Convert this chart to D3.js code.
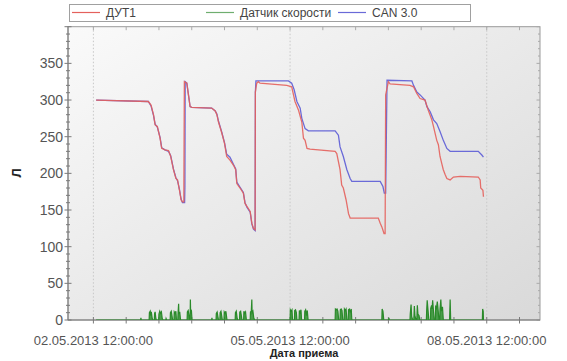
<!DOCTYPE html>
<html><head><meta charset="utf-8">
<script src="https://cdn.jsdelivr.net/npm/d3@7"></script>
<style>body{margin:0;background:#fff;}svg{display:block;font-family:"Liberation Sans",Arial,sans-serif;}</style>
</head><body>
<svg id="c" width="567" height="361"></svg>
<script>
// hours offset from 02.05.2013 12:00, value (litres)
const seriesNames = ["ДУТ1", "Датчик скорости", "CAN 3.0"];
const yTicks = [0, 50, 100, 150, 200, 250, 300, 350];
const xTickLabels = ["02.05.2013 12:00:00", "05.05.2013 12:00:00", "08.05.2013 12:00:00"];
const dut1 = [[1.0,300],[20.1,298],[21.1,293],[22.0,280],[22.6,266],[23.4,264],[24.4,248],[25.0,234],[26.2,232],[27.5,231],[28.3,223],[29.3,205],[30.2,193],[30.8,191],[31.5,177],[32.1,164],[32.6,161],[33.1,161],[33.3,325],[34.2,323],[35.4,291],[36.0,290],[43.3,289],[44.6,285],[45.2,280],[45.8,270],[47.0,255],[48.0,241],[48.8,223],[50.0,218],[51.3,211],[52.1,205],[52.5,186],[53.7,180],[54.9,173],[55.5,159],[56.2,155],[57.4,148],[58.0,132],[58.6,125],[59.2,123],[59.3,311],[59.8,323],[60.4,325],[61.0,323],[70.8,320],[72.6,318],[73.8,298],[75.1,286],[76.3,270],[76.9,248],[77.5,245],[78.2,234],[79.3,233],[88.5,230],[89.1,227],[90.3,205],[90.9,184],[91.5,180],[92.5,164],[93.4,145],[94.0,139],[104.3,139],[105.0,132],[105.6,127],[106.4,118],[106.8,118],[107.0,307],[108.0,325],[108.6,322],[115.9,320],[117.2,318],[118.4,309],[119.6,302],[121.4,300],[122.6,286],[123.9,273],[124.5,264],[125.7,245],[126.3,239],[126.9,223],[127.5,214],[128.1,205],[128.8,198],[129.4,193],[130.6,191],[131.8,195],[134.3,196],[140.9,195],[141.6,191],[141.8,180],[142.6,177],[142.8,168]];
const can30 = [[1.0,300],[20.1,298],[21.1,292],[22.0,279],[22.6,267],[23.4,263],[24.4,249],[25.0,235],[26.2,232],[27.5,230],[28.3,224],[29.3,206],[30.2,194],[30.8,190],[31.5,178],[32.1,165],[32.6,160],[33.4,160],[33.5,182],[33.6,325],[34.2,323],[35.4,291],[36.0,290],[43.3,289],[44.6,285],[45.2,281],[45.8,271],[47.0,256],[48.0,242],[48.8,226],[50.0,222],[51.3,212],[52.1,206],[52.5,188],[53.7,181],[54.9,174],[55.5,160],[56.2,154],[57.4,147],[58.0,131],[58.6,124],[59.2,122],[59.3,311],[59.5,326],[71.4,326],[72.6,323],[73.5,314],[74.5,298],[75.7,289],[76.3,275],[77.5,261],[78.7,258],[88.5,258],[89.7,252],[90.3,236],[91.5,223],[92.8,205],[94.0,193],[94.6,189],[105.0,189],[106.0,182],[106.5,173],[107.0,173],[107.5,327],[116.6,326],[117.2,320],[118.4,311],[119.6,307],[121.4,300],[122.1,291],[123.3,284],[124.5,273],[125.7,268],[126.9,257],[128.1,245],[129.4,234],[130.6,230],[140.9,230],[142.2,225],[142.8,222]];
const speed = [[1.0,0],[17.3,0],[17.4,3],[17.5,0],
[20.4,0],[20.5,10],[20.8,12],[21.0,6],[21.2,11],[21.5,3],[21.7,0],
[22.3,0],[22.4,9],[22.6,11],[22.8,4],[23.0,0],
[23.9,0],[24.0,8],[24.3,12],[24.6,9],[24.9,11],[25.2,2],[25.5,0],
[26.5,0],[26.6,2],[26.8,0],
[28.1,0],[28.2,10],[28.5,12],[28.8,5],[29.0,0],
[29.5,0],[29.6,11],[29.9,9],[30.2,12],[30.4,0],
[30.9,0],[31.0,10],[31.2,22],[31.3,8],[31.6,11],[31.9,0],
[34.3,0],[34.4,11],[34.7,13],[35.0,6],[35.2,0],
[35.4,0],[35.5,28],[35.6,10],[35.9,12],[36.1,0],
[43.3,0],[43.4,3],[43.5,0],
[44.9,0],[45.0,9],[45.3,11],[45.6,4],[45.8,0],
[46.3,0],[46.4,10],[46.7,12],[47.0,5],[47.2,0],
[47.8,0],[47.9,11],[48.2,9],[48.5,12],[48.9,0],
[51.9,0],[52.0,10],[52.3,12],[52.6,3],[52.8,0],
[53.5,0],[53.6,11],[53.9,12],[54.2,5],[54.4,0],
[55.0,0],[55.1,12],[55.4,9],[55.7,11],[56.0,0],
[57.4,0],[57.5,11],[57.8,12],[58.0,28],[58.1,10],[58.4,12],[58.7,3],[59.0,0],
[72.0,0],[72.1,14],[72.4,12],[72.7,14],[72.9,0],
[73.6,0],[73.7,13],[74.0,14],[74.3,10],[74.5,0],
[75.3,0],[75.4,13],[75.7,10],[76.0,14],[76.2,0],
[77.3,0],[77.4,12],[77.7,14],[78.0,6],[78.3,13],[78.6,0],
[88.5,0],[88.6,15],[88.9,14],[89.2,15],[89.5,12],[89.8,0],
[90.3,0],[90.4,14],[90.7,15],[91.0,13],[91.3,0],
[91.8,0],[91.9,15],[92.2,13],[92.5,15],[92.8,0],
[93.3,0],[93.4,14],[93.7,15],[94.0,11],[94.4,15],[94.6,0],
[105.6,0],[105.7,15],[106.0,12],[106.3,0],
[108.1,0],[108.2,3],[108.3,0],
[115.9,0],[116.0,8],[116.3,21],[116.5,5],[116.9,0],
[117.3,0],[117.5,19],[117.7,6],[118.1,0],
[118.4,0],[118.6,20],[118.8,8],[119.2,6],[119.5,0],
[121.9,0],[122.0,12],[122.2,27],[122.4,18],[122.8,0],
[123.4,0],[123.5,16],[123.8,20],[124.0,15],[124.2,27],[124.4,17],[124.8,0],
[125.2,0],[125.3,18],[125.6,16],[125.9,25],[126.1,18],[126.5,0],
[126.8,0],[126.9,15],[127.2,28],[127.4,12],[127.8,18],[128.1,0],
[130.4,0],[130.6,28],[130.8,0],
[142.4,0],[142.5,15],[142.7,12],[142.8,0]];

const base = Date.UTC(2013,4,2,12);
const toDate = h => new Date(base + h*3600e3);
const svg = d3.select("#c");
const L = 68, R = 540, T = 26.7, B = 320;
const x = d3.scaleUtc().domain([toDate(-9.3), toDate(163.5)]).range([L, R]);
const y = d3.scaleLinear().domain([0, 400]).range([B, T]);

const defs = svg.append("defs");
const g = defs.append("linearGradient").attr("id","bg").attr("x1","0").attr("y1","0").attr("x2","1").attr("y2","1");
g.append("stop").attr("offset","0").attr("stop-color","#fafafa");
g.append("stop").attr("offset","1").attr("stop-color","#d9d9d9");
defs.append("clipPath").attr("id","clip").append("rect").attr("x",L).attr("y",T).attr("width",R-L).attr("height",B-T);

svg.append("rect").attr("x",L).attr("y",T).attr("width",R-L).attr("height",B-T).attr("fill","url(#bg)");

// vertical dotted grid at labeled ticks
const majorDates = [toDate(0), toDate(72), toDate(144)];
svg.append("g").selectAll("line").data(majorDates).join("line")
  .attr("x1",d=>x(d)).attr("x2",d=>x(d)).attr("y1",T).attr("y2",B)
  .attr("stroke","#c8c8c8").attr("stroke-dasharray","1.5,2");

// frame
svg.append("rect").attr("x",L).attr("y",T).attr("width",R-L).attr("height",B-T)
  .attr("fill","none").attr("stroke","#9a9a9a").attr("stroke-width",1);

// Y axis
const yMinor = d3.range(0, 401, 10);
const axg = svg.append("g").attr("stroke","#7a7a7a").attr("stroke-width",1);
axg.selectAll("line.ym").data(yMinor).join("line")
  .attr("x1",d=> d%50===0 ? L-3.5 : L-2).attr("x2",d=> d%50===0 ? L+3.5 : L+2)
  .attr("y1",d=>y(d)).attr("y2",d=>y(d));
axg.selectAll("line.yr").data(yMinor).join("line")
  .attr("x1",d=> d%50===0 ? R-3.5 : R-2).attr("x2",R)
  .attr("y1",d=>y(d)).attr("y2",d=>y(d)).attr("stroke","#aaa");
svg.append("line").attr("x1",L).attr("x2",L).attr("y1",T).attr("y2",B).attr("stroke","#7a7a7a");
svg.append("line").attr("x1",L).attr("x2",R).attr("y1",B).attr("y2",B).attr("stroke","#7a7a7a");

svg.append("g").selectAll("text").data(yTicks).join("text")
  .attr("x",L-5).attr("y",d=>y(d)+5).attr("text-anchor","end")
  .attr("font-size",14).attr("fill","#555").text(d=>d);

// X axis ticks every 12h
const xTicks = d3.utcHour.every(12).range(x.domain()[0], x.domain()[1]);
axg.selectAll("line.xb").data(xTicks).join("line")
  .attr("x1",d=>x(d)).attr("x2",d=>x(d)).attr("y1",B-3).attr("y2",B+3.5);
axg.selectAll("line.xt").data(xTicks).join("line")
  .attr("x1",d=>x(d)).attr("x2",d=>x(d)).attr("y1",T).attr("y2",T+3.5).attr("stroke","#aaa");

svg.append("g").selectAll("text").data(majorDates).join("text")
  .attr("x",d=>x(d)).attr("y",345).attr("text-anchor","middle")
  .attr("font-size",13).attr("fill","#555").text((d,i)=>xTickLabels[i]);

// axis titles
svg.append("text").attr("x",(L+R)/2).attr("y",357).attr("text-anchor","middle")
  .attr("font-size",11).attr("font-weight","bold").attr("fill","#222").text("Дата приема");
svg.append("text").attr("transform","translate(21,173) rotate(-90)").attr("text-anchor","middle")
  .attr("font-size",13).attr("font-weight","bold").attr("fill","#222").text("Л");

// series
const plot = svg.append("g").attr("clip-path","url(#clip)");
const line = d3.line().x(d=>x(toDate(d[0]))).y(d=>y(d[1]));
const area = d3.area().x(d=>x(toDate(d[0]))).y0(y(0)).y1(d=>y(d[1]));
plot.append("path").datum(speed).attr("d",area).attr("fill","#2f8f2f").attr("opacity",0.85);
plot.append("path").datum(speed).attr("d",line).attr("fill","none").attr("stroke","#2a8a2a").attr("stroke-width",1.2);
plot.append("path").datum(can30).attr("d",line).attr("fill","none").attr("stroke","#6a6ad8").attr("stroke-width",1.3);
plot.append("path").datum(dut1).attr("d",line).attr("fill","none").attr("stroke","#e4615c").attr("stroke-width",1.3).attr("opacity",0.9);

// legend
const colors = ["#e4615c", "#6fae6f", "#6a6ad8"];
const lg = svg.append("g");
lg.append("rect").attr("x",69.5).attr("y",4.5).attr("width",401).attr("height",17)
  .attr("fill","#fff").attr("stroke","#a0a0a0");
const lx = [72, 206, 338];
seriesNames.forEach((n,i)=>{
  lg.append("line").attr("x1",lx[i]).attr("x2",lx[i]+28).attr("y1",12.5).attr("y2",12.5)
    .attr("stroke",colors[i]).attr("stroke-width",1.2);
  lg.append("text").attr("x",lx[i]+34).attr("y",17).attr("font-size",12).attr("fill","#444").text(n);
});
</script>
</body></html>
